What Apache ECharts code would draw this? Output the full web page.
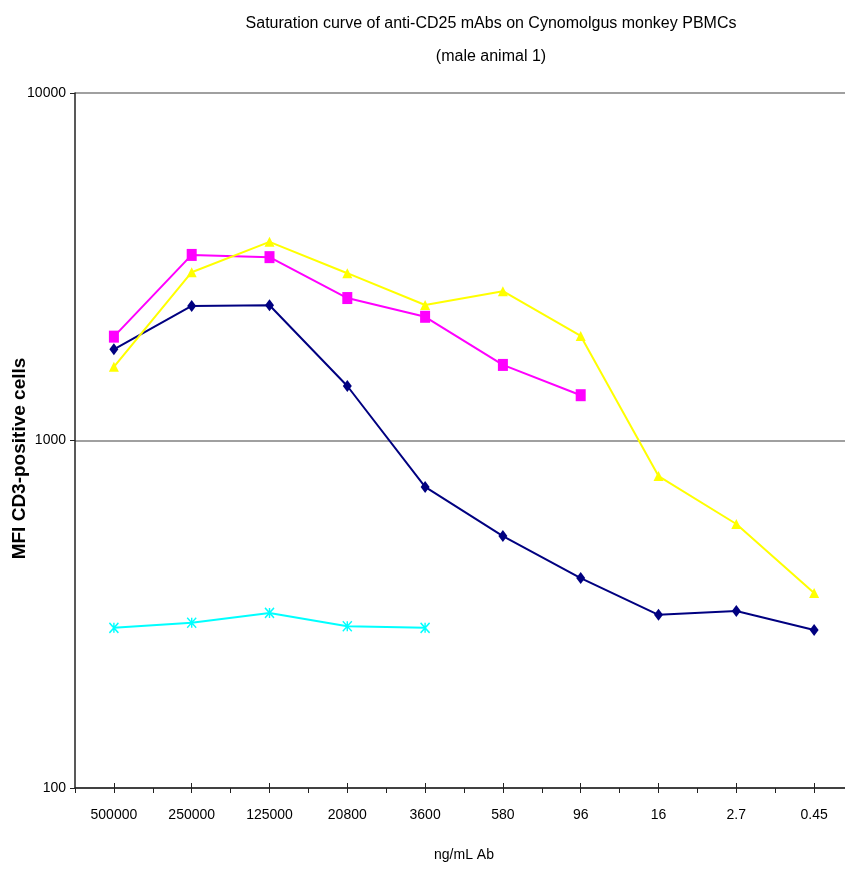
<!DOCTYPE html>
<html>
<head>
<meta charset="utf-8">
<script src="https://cdn.jsdelivr.net/npm/echarts@6/dist/echarts.min.js"></script>
<style>html,body{margin:0;padding:0;background:#fff}#c{width:845px;height:872px}</style>
</head>
<body>
<div id="c"></div>
<script>
var categories = ['500000', '250000', '125000', '20800', '3600', '580', '96', '16', '2.7', '0.45'];
var navySeries = [1830, 2440, 2450, 1435, 735, 531, 402, 315, 323, 285];
var magentaSeries = [1990, 3420, 3370, 2570, 2270, 1650, 1350, null, null, null];
var yellowSeries = [1630, 3050, 3730, 3030, 2455, 2690, 2000, 790, 575, 364];
var cyanSeries = [289, 299, 319, 292, 289, null, null, null, null, null];
var titleLines = ['Saturation curve of anti-CD25 mAbs on Cynomolgus monkey PBMCs', '(male animal 1)'];
var yAxisName = 'MFI CD3-positive cells';
var xAxisName = 'ng/mL Ab';

var narrow = '"Liberation Sans Narrow", "Arial Narrow", "Liberation Sans", sans-serif';
var chart = echarts.init(document.getElementById('c'), null, {renderer: 'canvas'});
var grid = {left: 75, top: 93, right: -8, bottom: 84, containLabel: false, outerBoundsMode: 'none'};
function lineSeries(data, color, symbol, size) {
  return {
    type: 'line', data: data, connectNulls: false, animation: false,
    symbol: symbol, symbolSize: size,
    lineStyle: {color: color, width: 2},
    itemStyle: {color: color, borderColor: color, borderWidth: 0},
    z: 3
  };
}
var option = {
  backgroundColor: '#fff',
  title: {
    text: titleLines.join('\n'), left: 486, top: 2, textAlign: 'center',
    textStyle: {fontFamily: narrow, fontSize: 16, fontWeight: 'normal', color: '#000', lineHeight: 33}
  },
  grid: grid,
  xAxis: [{
    type: 'category', data: categories, boundaryGap: true,
    name: xAxisName, nameLocation: 'middle', nameGap: 60,
    nameTextStyle: {fontFamily: narrow, fontSize: 14, color: '#000'},
    axisLine: {lineStyle: {color: '#222', width: 1.5}},
    axisTick: {show: true, interval: 0, alignWithLabel: false, length: 5, lineStyle: {color: '#222'}},
    axisLabel: {interval: 0, margin: 20, fontFamily: narrow, fontSize: 14, color: '#000'},
    splitLine: {show: false}
  }, {
    type: 'category', data: categories, boundaryGap: true, position: 'bottom',
    axisLine: {show: false},
    axisTick: {show: true, interval: 0, alignWithLabel: true, length: 5, lineStyle: {color: '#222'}},
    axisLabel: {show: false}, splitLine: {show: false}
  }, {
    type: 'category', data: categories, boundaryGap: true, position: 'bottom',
    axisLine: {show: false},
    axisTick: {show: true, inside: true, interval: 0, alignWithLabel: true, length: 5, lineStyle: {color: '#222'}},
    axisLabel: {show: false}, splitLine: {show: false}
  }],
  yAxis: [{
    type: 'log', logBase: 10, min: 100, max: 10000,
    name: yAxisName, nameLocation: 'middle', nameGap: 46, nameRotate: 90, nameMoveOverlap: false,
    nameTextStyle: {fontFamily: '"Liberation Sans", Arial, sans-serif', fontSize: 19, fontWeight: 'bold', color: '#000', padding: [0, 0, 0, -36]},
    axisLine: {show: true, lineStyle: {color: '#222', width: 1.5}},
    axisTick: {show: true, length: 5, lineStyle: {color: '#222'}},
    axisLabel: {margin: 9, fontFamily: narrow, fontSize: 14, color: '#000', formatter: function (v) { return String(Math.round(v)); }},
    splitLine: {show: true, lineStyle: {color: '#808080', width: 1.5}},
    minorTick: {show: false}
  }],
  series: [
    lineSeries(navySeries, '#000080', 'diamond', [9, 12]),
    lineSeries(magentaSeries, '#FF00FF', 'rect', [10, 12]),
    lineSeries(yellowSeries, '#FFFF00', 'triangle', [10, 10]),
    {
      type: 'line', data: cyanSeries, animation: false,
      symbol: 'path://M0,0L10,10M10,0L0,10M5,0L5,10', symbolSize: [9, 10],
      lineStyle: {color: '#00FFFF', width: 2},
      itemStyle: {color: 'rgba(0,0,0,0)', borderColor: '#00FFFF', borderWidth: 1.5},
      z: 3
    }
  ]
};
chart.setOption(option);
</script>
</body>
</html>
